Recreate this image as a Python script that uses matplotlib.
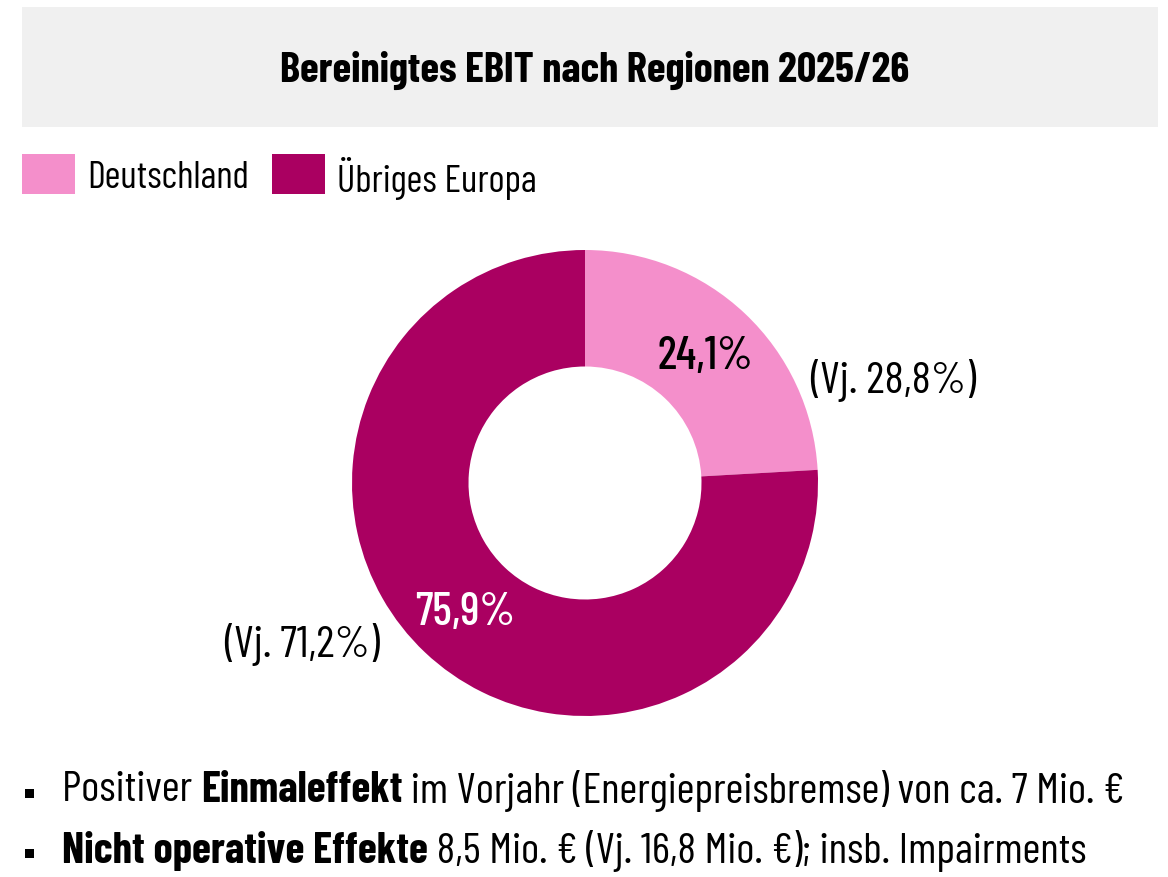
import matplotlib
matplotlib.use("Agg")
import matplotlib.pyplot as plt
from matplotlib.patches import Rectangle

FAM = ['Barlow Condensed', 'DejaVu Sans']
plt.rcParams['font.family'] = FAM

title = "Bereinigtes EBIT nach Regionen 2025/26"
categories = ["Deutschland", "Übriges Europa"]
shares = [24.1, 75.9]
share_labels = ["24,1%", "75,9%"]
prev_labels = ["(Vj. 28,8%)", "(Vj. 71,2%)"]
colors = ["#F48FCB", "#AA0061"]
bullets = [
    [("Positiver ", False), ("Einmaleffekt", True), (" im Vorjahr (Energiepreisbremse) von ca. 7 Mio. €", False)],
    [("Nicht operative Effekte", True), (" 8,5 Mio. € (Vj. 16,8 Mio. €); insb. Impairments", False)],
]

W, H = 1168, 878
fig = plt.figure(figsize=(W / 100, H / 100), dpi=100)
fig.canvas.draw()
r = fig.canvas.get_renderer()


def fx(x):
    return x / W


def fy(y):
    return 1 - y / H


def rect(x0, y0, x1, y1, col, z=1):
    fig.patches.append(Rectangle((fx(x0), fy(y1)), fx(x1) - fx(x0), fy(y0) - fy(y1),
                                 transform=fig.transFigure, color=col, zorder=z, linewidth=0))


# title band
rect(22, 8, 1158, 128, "#F0F0F0", 0)
fig.text(fx(595), fy(70), title, ha="center", va="center", fontsize=30.8, fontweight="bold")

# legend
lx = [22, 272]
for x0, c, col in zip(lx, categories, colors):
    rect(x0, 155, x0 + 53, 195, col)
    fig.text(fx(x0 + 65), fy(178), c, ha="left", va="center", fontsize=27.7)

# donut
cx, cy, R = 585, 484, 233
ax = fig.add_axes([fx(cx - R), (H - cy - R) / H, 2 * R / W, 2 * R / H])
ax.pie(shares, colors=colors, startangle=90, counterclock=False, radius=1,
       wedgeprops=dict(width=0.5, linewidth=0))
ax.set_xlim(-1, 1)
ax.set_ylim(-1, 1)
ax.set_aspect("equal")
ax.axis("off")

fig.text(fx(705), fy(357), share_labels[0], ha="center", va="center", fontsize=33,
         color="black", fontweight="medium")
fig.text(fx(465), fy(613), share_labels[1], ha="center", va="center", fontsize=33,
         color="white", fontweight="medium")
fig.text(fx(810), fy(381), prev_labels[0], ha="left", va="center", fontsize=32.5)
fig.text(fx(224), fy(645), prev_labels[1], ha="left", va="center", fontsize=32.5)

# bullets
ys = [791, 851]
for y, parts in zip(ys, bullets):
    rect(25, y - 1, 34, y + 8, "black")
    x = 62
    for txt, b in parts:
        t = fig.text(fx(x), fy(y), txt, ha="left", va="center", fontsize=31.3,
                     fontweight="bold" if b else "normal")
        x += t.get_window_extent(renderer=r).width

fig.savefig("out.png", dpi=100)
